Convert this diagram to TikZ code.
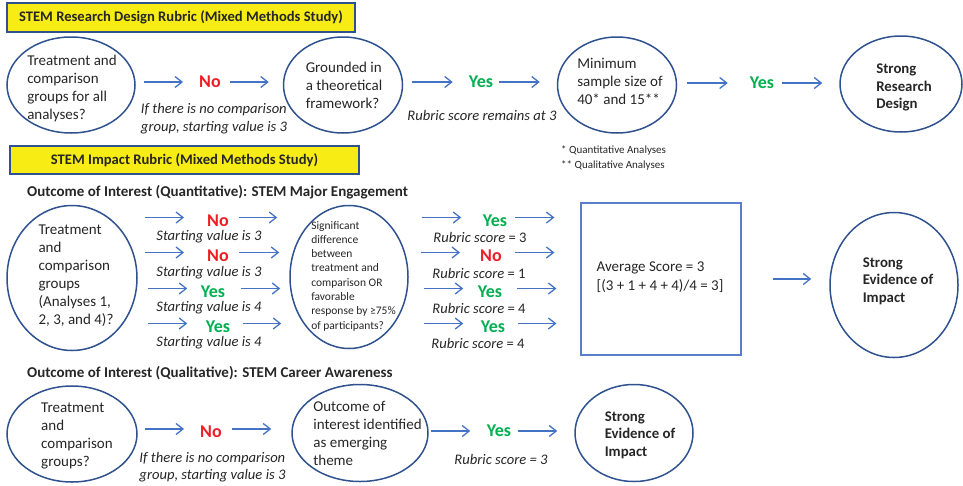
\documentclass[tikz,border=0pt]{standalone}
\usepackage{fontspec}
\setmainfont{Carlito}
\usetikzlibrary{shapes.geometric,arrows.meta}

\definecolor{ovalblue}{HTML}{2F528F}
\definecolor{arrowblue}{HTML}{4472C4}
\definecolor{boxblue}{HTML}{5B7FC7}
\definecolor{bannerfill}{HTML}{F7EC13}
\definecolor{noRed}{HTML}{EE1C25}
\definecolor{yesGreen}{HTML}{00B050}
\definecolor{inkgray}{HTML}{262626}

\tikzset{
  oval/.style={ellipse, draw=ovalblue, line width=1.5pt, inner sep=0pt},
  banner/.style={draw=ovalblue, line width=1.3pt, fill=bannerfill, inner sep=0pt, font=\bfseries\fontsize{14.6}{16}\selectfont},
  heading/.style={anchor=west, inner sep=0pt, font=\bfseries\fontsize{15}{17}\selectfont},
  txt/.style={align=left, inner sep=0pt, font=\fontsize{15}{18}\selectfont},
  smalltxt/.style={align=left, inner sep=0pt, font=\fontsize{11.5}{14.3}\selectfont},
  boldtxt/.style={align=left, inner sep=0pt, font=\bfseries\fontsize{14.8}{17.5}\selectfont},
  remark/.style={align=left, inner sep=0pt, font=\itshape\fontsize{14.6}{18}\selectfont},
  nolbl/.style={inner sep=0pt, text=noRed, font=\bfseries\fontsize{18}{20}\selectfont},
  yeslbl/.style={inner sep=0pt, text=yesGreen, font=\bfseries\fontsize{18}{20}\selectfont},
  arr/.style={draw=arrowblue, line width=1.3pt, -{Straight Barb[length=7pt,width=11pt]}},
}

\begin{document}
\begin{tikzpicture}[x=1pt, y=-1pt, text=inkgray]
        \useasboundingbox (0,0) rectangle (963,485);

        % research design rubric
        \node[banner, minimum width=348pt, minimum height=29pt] (ban1) at (181,17.5) {STEM Research Design Rubric (Mixed Methods Study)};
        \node[oval, minimum width=128pt, minimum height=96pt] (grp) at (71,85) {};
        \node[txt] (grptxt) at (72,88) {Treatment and\\comparison\\groups for all\\analyses?};
        \node[nolbl] (grpno) at (210,82) {No};
        \node[remark] (grpnote) at (214,118.5) {If there is no comparison\\group, starting value is 3};
        \node[oval, minimum width=119pt, minimum height=96pt] (theory) at (343,85) {};
        \node[txt] (theorytxt) at (344,85) {Grounded in\\a theoretical\\framework?};
        \node[yeslbl] (theoryyes) at (481,82) {Yes};
        \node[remark] (theorynote) at (482,115) {Rubric score remains at 3};
        \node[oval, minimum width=119pt, minimum height=96pt] (sample) at (617,85) {};
        \node[txt] (sampletxt) at (620,81) {Minimum\\sample size of\\40* and 15**};
        \node[yeslbl] (sampleyes) at (762,83) {Yes};
        \node[oval, minimum width=122pt, minimum height=96pt] (design) at (901,84) {};
        \node[boldtxt] (designtxt) at (904,87.5) {Strong\\Research\\Design};
        \node[txt, anchor=west, font=\fontsize{11}{15}\selectfont] (foot) at (561,157.5) {* Quantitative Analyses\\{}** Qualitative Analyses};

        \draw[arr] ([xshift=8pt]grp.east |- grpno.west) -- ([xshift=-16pt]grpno.west);
        \draw[arr] ([xshift=9pt]grpno.east) -- ([xshift=-14pt]theory.west |- grpno.east);
        \draw[arr] ([xshift=9pt]theory.east |- theoryyes.west) -- ([xshift=-16pt]theoryyes.west);
        \draw[arr] ([xshift=6pt]theoryyes.east) -- ([xshift=-17pt]sample.west |- theoryyes.east);
        \draw[arr] ([xshift=10pt]sample.east |- sampleyes.west) -- ([xshift=-22pt]sampleyes.west);
        \draw[arr] ([xshift=8pt]sampleyes.east) -- ([xshift=-17pt]design.west |- sampleyes.east);

        % impact rubric, quantitative outcome
        \node[banner, minimum width=349pt, minimum height=28pt] (ban2) at (184.5,160) {STEM Impact Rubric (Mixed Methods Study)};
        \node[heading] (quanthead) at (27,192) {Outcome of Interest (Quantitative): STEM Major Engagement};
        \node[oval, minimum width=130pt, minimum height=145pt] (mgrp) at (72,278) {};
        \node[txt] (mgrptxt) at (76,276) {Treatment\\and\\comparison\\groups\\(Analyses 1,\\2, 3, and 4)?};
        \node[nolbl] (s1) at (218,221) {No};
        \node[remark] (s1note) at (209,237) {Starting value is 3};
        \node[nolbl] (s2) at (218,256) {No};
        \node[remark] (s2note) at (209,273) {Starting value is 3};
        \node[yeslbl] (s3) at (213,292) {Yes};
        \node[remark] (s3note) at (209,308) {Starting value is 4};
        \node[yeslbl] (s4) at (218,327) {Yes};
        \node[remark] (s4note) at (209,343) {Starting value is 4};
        \node[oval, minimum width=118pt, minimum height=143pt] (signif) at (349,277) {};
        \node[smalltxt] (signiftxt) at (353.5,276) {Significant\\difference\\between\\treatment and\\comparison OR\\favorable\\response by ≥75\%\\of participants?};
        \node[yeslbl] (r1) at (495,221) {Yes};
        \node[remark] (r1note) at (480,237) {Rubric score \textup{= 3}};
        \node[nolbl] (r2) at (491,256) {No};
        \node[remark] (r2note) at (479,273) {Rubric score \textup{= 1}};
        \node[yeslbl] (r3) at (490,292) {Yes};
        \node[remark] (r3note) at (479,308) {Rubric score \textup{= 4}};
        \node[yeslbl] (r4) at (493,327) {Yes};
        \node[remark] (r4note) at (478,343) {Rubric score \textup{= 4}};
        \node[draw=boxblue, line width=1.2pt, minimum width=160pt, minimum height=152pt, inner sep=0pt] (avg) at (661,279) {};
        \node[txt, font=\fontsize{15}{19}\selectfont] (avgtxt) at (660,277.5) {Average Score = 3\\{}[(3 + 1 + 4 + 4)/4 = 3]};
        \node[oval, minimum width=128pt, minimum height=145pt] (impact) at (894,285) {};
        \node[boldtxt] (impacttxt) at (898,281) {Strong\\Evidence of\\Impact};

        \draw[arr] ([xshift=7pt,yshift=3.5pt]mgrp.east |- s1.west) -- ([xshift=-23pt,yshift=3.5pt]s1.west);
        \draw[arr] ([xshift=10pt,yshift=3.5pt]s1.east) -- ([xshift=-12pt,yshift=3.5pt]signif.west |- s1.east);
        \draw[arr] ([xshift=7pt,yshift=3.5pt]mgrp.east |- s2.west) -- ([xshift=-23pt,yshift=3.5pt]s2.west);
        \draw[arr] ([xshift=10pt,yshift=3.5pt]s2.east) -- ([xshift=-10pt,yshift=3.5pt]signif.west |- s2.east);
        \draw[arr] ([xshift=10pt,yshift=3.5pt]mgrp.east |- s3.west) -- ([xshift=-13.5pt,yshift=3.5pt]s3.west);
        \draw[arr] ([xshift=15.5pt,yshift=3.5pt]s3.east) -- ([xshift=-9pt,yshift=3.5pt]signif.west |- s3.east);
        \draw[arr] ([xshift=10pt,yshift=3.5pt]mgrp.east |- s4.west) -- ([xshift=-18.5pt,yshift=3.5pt]s4.west);
        \draw[arr] ([xshift=12.5pt,yshift=3.5pt]s4.east) -- ([xshift=-8pt,yshift=3.5pt]signif.west |- s4.east);

        \draw[arr] ([xshift=13pt,yshift=3.5pt]signif.east |- r1.west) -- ([xshift=-21.5pt,yshift=3.5pt]r1.west);
        \draw[arr] ([xshift=7.5pt,yshift=3.5pt]r1.east) -- ([xshift=-26pt,yshift=3.5pt]avg.west |- r1.east);
        \draw[arr] ([xshift=12pt,yshift=3.5pt]signif.east |- r2.west) -- ([xshift=-20pt,yshift=3.5pt]r2.west);
        \draw[arr] ([xshift=13pt,yshift=3.5pt]r2.east) -- ([xshift=-26pt,yshift=3.5pt]avg.west |- r2.east);
        \draw[arr] ([xshift=15pt,yshift=3.5pt]signif.east |- r3.west) -- ([xshift=-14.5pt,yshift=3.5pt]r3.west);
        \draw[arr] ([xshift=14.5pt,yshift=3.5pt]r3.east) -- ([xshift=-24pt,yshift=3.5pt]avg.west |- r3.east);
        \draw[arr] ([xshift=15pt,yshift=3.5pt]signif.east |- r4.west) -- ([xshift=-17.5pt,yshift=3.5pt]r4.west);
        \draw[arr] ([xshift=12.5pt,yshift=3.5pt]r4.east) -- ([xshift=-24pt,yshift=3.5pt]avg.west |- r4.east);
        \draw[arr] ([xshift=31pt]avg.east) -- ([xshift=-18pt]impact.west |- avg.east);

        % impact rubric, qualitative outcome
        \node[heading] (qualhead) at (27,373) {Outcome of Interest (Qualitative): STEM Career Awareness};
        \node[oval, minimum width=130pt, minimum height=96pt] (qgrp) at (72,434) {};
        \node[txt] (qgrptxt) at (77,435.5) {Treatment\\and\\comparison\\groups?};
        \node[nolbl] (qno) at (211,432) {No};
        \node[remark, font=\itshape\fontsize{14.6}{17}\selectfont] (qnote) at (212.5,467.5) {If there is no comparison\\group, starting value is 3};
        \node[oval, minimum width=136pt, minimum height=97pt] (theme) at (360,433) {};
        \node[txt] (themetxt) at (367.5,433.5) {Outcome of\\interest identified\\as emerging\\theme};
        \node[yeslbl] (qyes) at (499,431) {Yes};
        \node[remark] (qyesnote) at (501,459) {Rubric score = 3};
        \node[oval, minimum width=118pt, minimum height=97pt] (qimpact) at (634,433) {};
        \node[boldtxt] (qimpacttxt) at (640,435) {Strong\\Evidence of\\Impact};

        \draw[arr] ([xshift=7pt,yshift=3pt]qgrp.east |- qno.west) -- ([xshift=-16pt,yshift=3pt]qno.west);
        \draw[arr] ([xshift=10pt,yshift=3pt]qno.east) -- ([xshift=-20pt,yshift=3pt]theme.west |- qno.east);
        \draw[arr] ([xshift=2pt]theme.east |- qyes.west) -- ([xshift=-16.5pt]qyes.west);
        \draw[arr] ([xshift=6.5pt]qyes.east) -- ([xshift=-17pt]qimpact.west |- qyes.east);
\end{tikzpicture}
\end{document}
